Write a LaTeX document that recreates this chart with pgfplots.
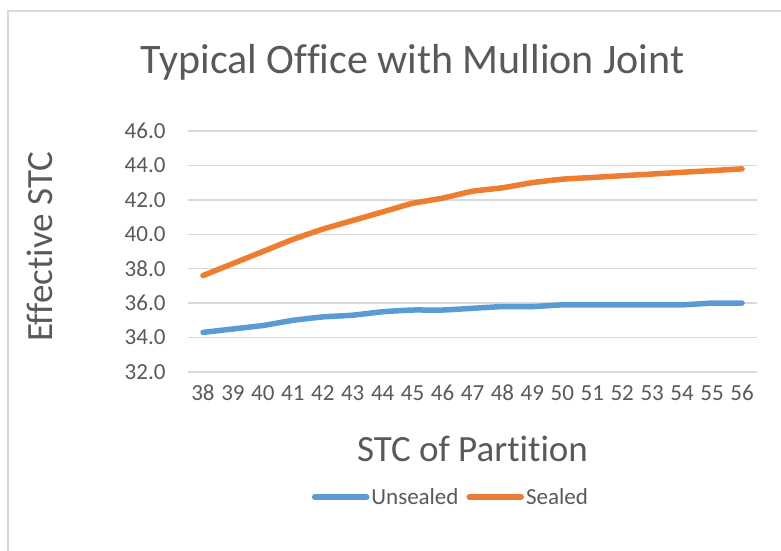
\documentclass[border=0pt]{standalone}
\usepackage{pgfplots}
\pgfplotsset{compat=1.18}
\usepackage{fontspec}
\setmainfont[Ligatures=NoCommon]{Carlito}
\definecolor{txt}{HTML}{595959}
\definecolor{gridc}{HTML}{D9D9D9}
\definecolor{ublue}{HTML}{5B9BD5}
\definecolor{sorange}{HTML}{ED7D31}
\begin{document}
\begin{tikzpicture}
\useasboundingbox (0,0) rectangle (781bp,551bp);
\draw[gridc, line width=1.5bp] (8bp,0) -- (8bp,540bp) -- (781bp,540bp);
\begin{axis}[
  at={(188bp,179bp)}, anchor=south west,
  scale only axis, width=569bp, height=241bp,
  xmin=-0.5, xmax=18.5, ymin=32, ymax=46,
  ytick={32,34,...,46},
  xtick={0,...,18},
  xticklabels={38,39,40,41,42,43,44,45,46,47,48,49,50,51,52,53,54,55,56},
  axis line style={draw=none},
  major tick length=0pt,
  ymajorgrids, grid style={color=gridc, line width=1.3bp},
  /pgf/number format/assume math mode=true,
  yticklabel style={/pgf/number format/fixed, /pgf/number format/fixed zerofill, /pgf/number format/precision=1, xshift=-19bp},
  ticklabel style={font=\fontsize{23bp}{26bp}\selectfont, text=txt},
  xticklabel style={yshift=-9bp, text height=16bp, text depth=4bp},
  title={Typical Office with Mullion Joint},
  title style={at={(0.395,1.261)}, anchor=center, font=\fontsize{42bp}{48bp}\selectfont, text=txt},
  xlabel={STC of Partition},
  xlabel style={at={(0.5,-0.32)}, anchor=center, font=\fontsize{37bp}{42bp}\selectfont, text=txt},
  ylabel={Effective STC},
  ylabel style={at={(-0.26,0.519)}, anchor=center, font=\fontsize{37bp}{42bp}\selectfont, text=txt},
  legend columns=2,
  legend style={at={(0.462,-0.519)}, anchor=center, draw=none, fill=none,
    font=\fontsize{23bp}{26bp}\selectfont, text=txt,
    /tikz/every even column/.append style={column sep=6bp}},
  legend image code/.code={\draw[#1, line width=5.5bp, line cap=round] (0bp,0bp) -- (52bp,0bp);},
]
\addplot[ublue, line width=5.5bp, line cap=round, line join=round, smooth, tension=0.3] coordinates {
(0,34.3) (1,34.5) (2,34.7) (3,35.0) (4,35.2) (5,35.3) (6,35.5) (7,35.6) (8,35.6) (9,35.7)
(10,35.8) (11,35.8) (12,35.9) (13,35.9) (14,35.9) (15,35.9) (16,35.9) (17,36.0) (18,36.0)};
\addlegendentry{Unsealed}
\addplot[sorange, line width=5.5bp, line cap=round, line join=round, smooth, tension=0.3] coordinates {
(0,37.6) (1,38.3) (2,39.0) (3,39.7) (4,40.3) (5,40.8) (6,41.3) (7,41.8) (8,42.1) (9,42.5)
(10,42.7) (11,43.0) (12,43.2) (13,43.3) (14,43.4) (15,43.5) (16,43.6) (17,43.7) (18,43.8)};
\addlegendentry{Sealed}
\end{axis}
\end{tikzpicture}
\end{document}
